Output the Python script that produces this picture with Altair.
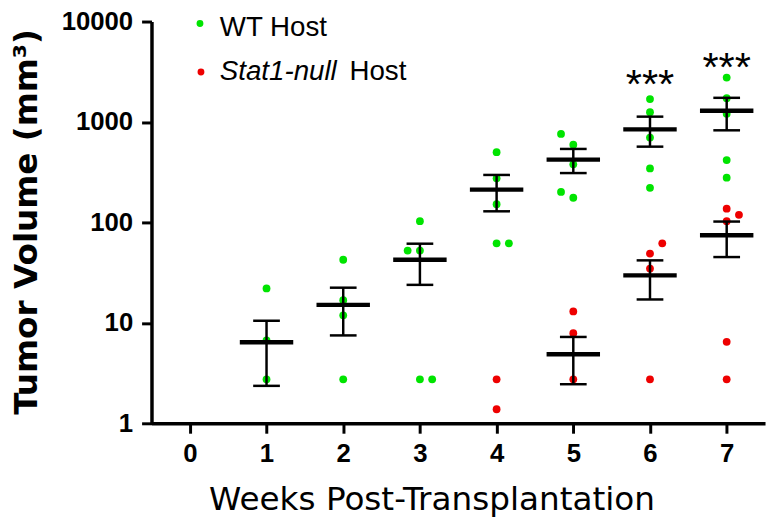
import altair as alt
import pandas as pd

# ---------------- data ----------------
week_ticks = [0, 1, 2, 3, 4, 5, 6, 7]
vol_ticks = [1, 10, 100, 1000, 10000]

# individual mice, WT host (visible points); spread = horizontal spread of overlapping dots (weeks)
wt_week = [1, 1, 1, 2, 2, 2, 2, 3, 3, 3, 3, 3, 4, 4, 4, 4, 4,
           5, 5, 5, 5, 5, 6, 6, 6, 6, 6, 7, 7, 7, 7, 7]
wt_vol = [22, 6.7, 2.74, 42.5, 16.8, 11.9, 2.74, 103, 52.5, 52.5, 2.74, 2.74,
          500, 275, 152, 62, 62, 760, 594, 379, 201, 176,
          1690, 1253, 700, 345, 221, 2770, 1727, 1208, 418, 279]
wt_spread = [0, 0, 0, 0, 0, 0, 0, 0, -0.16, 0, 0, 0.16, 0, 0, 0, 0, 0.16,
             -0.16, 0, 0, -0.16, 0, 0, 0, 0, 0, 0, 0, 0, 0, 0, 0]

# individual mice, Stat1-null host
st_week = [4, 4, 5, 5, 5, 6, 6, 6, 6, 7, 7, 7, 7, 7]
st_vol = [2.74, 1.38, 13, 7.9, 2.74, 62, 49, 34.7, 2.74, 137, 119, 103, 6.47, 2.74]
st_spread = [0, 0, 0, 0, 0, 0.16, 0, 0, 0, 0, 0.16, 0, 0, 0]

# mean +/- SEM
wt_m_week = [1, 2, 3, 4, 5, 6, 7]
wt_mean = [6.4, 15.1, 42.5, 212, 422, 844, 1292]
wt_hi = [10.5, 22.4, 61.4, 297, 539, 1130, 1740]
wt_lo = [2.36, 7.5, 23.9, 129, 310, 568, 826]

st_m_week = [5, 6, 7]
st_mean = [4.88, 29.7, 74.4]
st_hi = [7.24, 41.9, 102]
st_lo = [2.45, 17.1, 45.2]

star_week = [6, 7]
star_vol = [1741, 2531]
star_text = ["***", "***"]

GREEN = "#00e400"
RED = "#ee0000"

# ---------------- tables ----------------
pts = pd.concat([
    pd.DataFrame({"x": [w + s for w, s in zip(wt_week, wt_spread)], "vol": wt_vol, "grp": "WT"}),
    pd.DataFrame({"x": [w + s for w, s in zip(st_week, st_spread)], "vol": st_vol, "grp": "Stat1"}),
], ignore_index=True)

sem = pd.concat([
    pd.DataFrame({"x": wt_m_week, "mean": wt_mean, "lo": wt_lo, "hi": wt_hi}),
    pd.DataFrame({"x": st_m_week, "mean": st_mean, "lo": st_lo, "hi": st_hi}),
], ignore_index=True)

stars = pd.DataFrame({"x": star_week, "vol": star_vol, "t": star_text})

# ---------------- scales / axes ----------------
xs = alt.Scale(domain=[-0.5, 7.5], nice=False, zero=False)
ys = alt.Scale(type="log", domain=[1, 10000], nice=False)

PLOT_H = 406
TOP = 11  # plot top offset inside canvas

common_axis = dict(
    grid=False, domainColor="black", domainWidth=3.5, tickColor="black",
    tickWidth=3, tickSize=10, labelFont="Liberation Sans", labelFontWeight="bold",
    labelFontSize=26, labelColor="black", labelFlush=False, labelOverlap=False,
    titleColor="black", titleFont="DejaVu Sans",
)
x_axis = alt.Axis(values=week_ticks, format="d", title="Weeks Post-Transplantation",
                  labelPadding=8, titleFontSize=33, titleFontWeight="normal",
                  titleX=283, titleY=87, titleAlign="center", titleBaseline="alphabetic",
                  **common_axis)
y_axis = alt.Axis(values=vol_ticks, format="d", title="Tumor Volume (mm³)",
                  labelPadding=9, titleFontSize=33, titleFontWeight="bold",
                  titleAngle=270, titleX=-116, titleY=202, titleAlign="center",
                  titleBaseline="alphabetic", **common_axis)


def X(f):
    return alt.X(f, type="quantitative", scale=xs, axis=x_axis)


def Y(f):
    return alt.Y(f, type="quantitative", scale=ys, axis=y_axis)


points = alt.Chart(pts).mark_circle(size=62, opacity=1).encode(
    x=X("x"), y=Y("vol"),
    color=alt.Color("grp:N", scale=alt.Scale(domain=["WT", "Stat1"], range=[GREEN, RED]), legend=None),
)

whisk = alt.Chart(sem).mark_rule(color="black", strokeWidth=2.5).encode(
    x=X("x"), y=Y("lo"), y2="hi"
)

caps = alt.Chart(sem).transform_fold(["lo", "hi"], as_=["k", "v"]).mark_tick(
    orient="horizontal", size=27, thickness=2.5, color="black", opacity=1
).encode(x=X("x"), y=Y("v"))

means = alt.Chart(sem).mark_tick(
    orient="horizontal", size=54, thickness=4.5, color="black", opacity=1
).encode(x=X("x"), y=Y("mean"))

star_marks = alt.Chart(stars).mark_text(
    font="Liberation Sans", fontSize=42, color="black", align="center",
    baseline="alphabetic"
).encode(x=X("x"), y=Y("vol"), text="t:N")

# ---------------- legend (drawn manually, page-anchored) ----------------
leg_src = pd.DataFrame({"a": [0]})
dy = 14 - 8 - TOP  # shift so that legend keeps its place on the page
leg_g_dot = alt.Chart(leg_src).mark_circle(size=48, opacity=1, color=GREEN).encode(
    x=alt.value(49), y=alt.value(7 + dy))
leg_r_dot = alt.Chart(leg_src).mark_circle(size=48, opacity=1, color=RED).encode(
    x=alt.value(50), y=alt.value(56 + dy))
leg_g_txt = alt.Chart(leg_src).mark_text(
    text="WT Host", font="Liberation Sans", fontSize=28, color="black", align="left",
    baseline="alphabetic").encode(x=alt.value(69), y=alt.value(20 + dy))
leg_r_txt1 = alt.Chart(leg_src).mark_text(
    text="Stat1-null", font="Liberation Sans", fontSize=28, fontStyle="italic", color="black",
    align="left", baseline="alphabetic").encode(x=alt.value(69), y=alt.value(64 + dy))
leg_r_txt2 = alt.Chart(leg_src).mark_text(
    text="Host", font="Liberation Sans", fontSize=28, color="black", align="left",
    baseline="alphabetic").encode(x=alt.value(200), y=alt.value(64 + dy))

chart = alt.layer(
    points, whisk, caps, means, star_marks,
    leg_g_dot, leg_r_dot, leg_g_txt, leg_r_txt1, leg_r_txt2,
).properties(
    width=620, height=PLOT_H,
    autosize=alt.AutoSizeParams(type="none"),
    padding={"left": 145, "top": TOP, "right": 3, "bottom": 92},
    background="white",
).configure_view(stroke=None)

chart.save("out.html", embed_options={"renderer": "svg", "actions": False})
